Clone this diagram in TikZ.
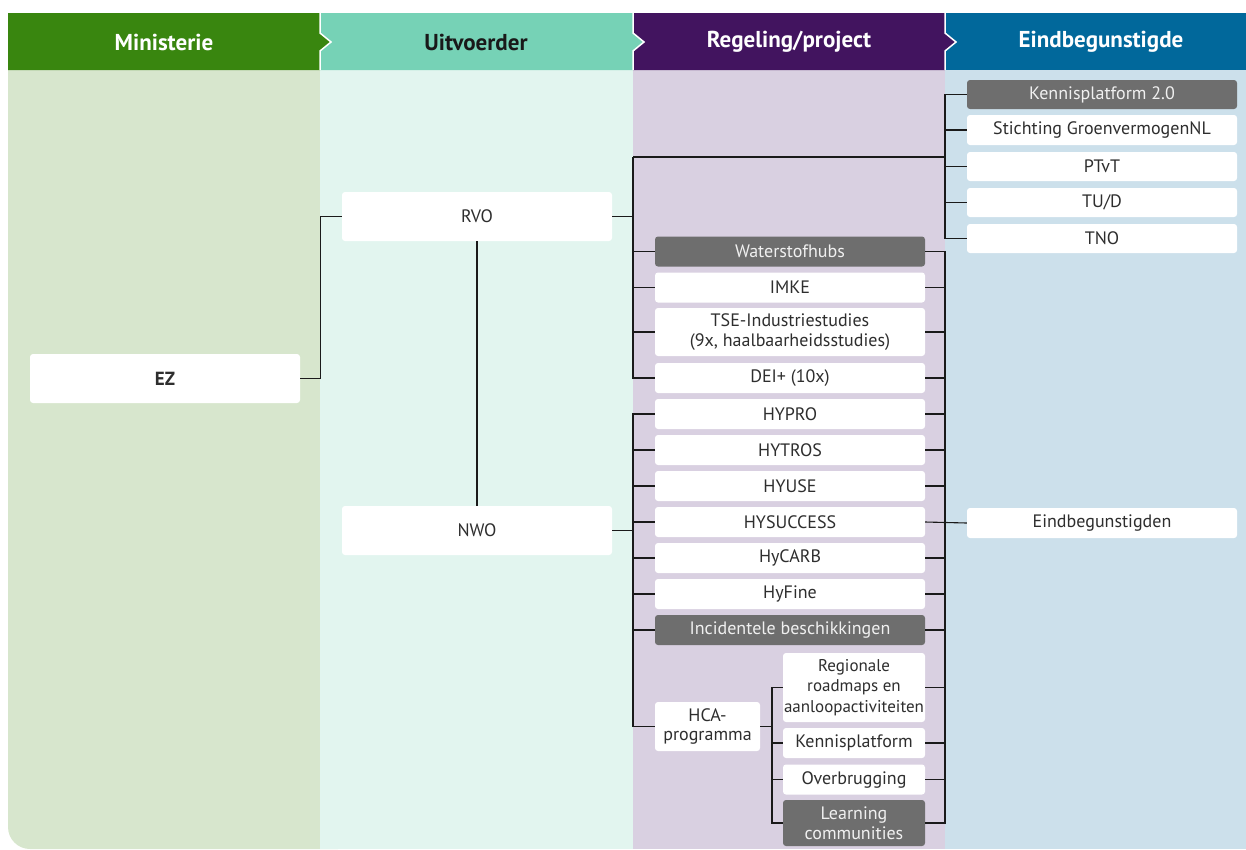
\documentclass[tikz,border=0pt]{standalone}
\usepackage{fontspec}
\setmainfont{PT Sans}
\definecolor{hdgreen}{HTML}{39860F}
\definecolor{hdteal}{HTML}{76D2B6}
\definecolor{hdpurple}{HTML}{42145F}
\definecolor{hdblue}{HTML}{01689B}
\definecolor{bdgreen}{HTML}{D7E6CD}
\definecolor{bdteal}{HTML}{E2F5EF}
\definecolor{bdpurple}{HTML}{D9D0E1}
\definecolor{bdblue}{HTML}{CCE0EB}
\definecolor{boxgray}{HTML}{6E6E6E}
\definecolor{txtdark}{HTML}{2E2E2E}
\definecolor{linecol}{HTML}{1A1A1A}
\tikzset{
  box/.style={fill=white, rounded corners=3pt, inner sep=0pt, text=txtdark,
    font=\fontsize{18}{19.5}\selectfont, align=center},
  graybox/.style={box, fill=boxgray, text=white!94!black},
  hdtext/.style={font=\fontsize{23}{25}\selectfont\bfseries, text=white},
  conn/.style={draw=linecol, line width=1.1pt},
  sepline/.style={draw=white, line width=1.5pt},
}
\begin{document}
\begin{tikzpicture}[x=1pt,y=-1pt]
\useasboundingbox (0,0) rectangle (1246,849);
% body backgrounds
\fill[bdgreen, rounded corners=22pt] (8,40) rectangle (360,849);
\fill[bdteal] (320,70) rectangle (633,849);
\fill[bdpurple] (633,70) rectangle (945,849);
\fill[bdblue] (945,70) rectangle (1246,849);
% headers
\fill[hdblue] (945,13) rectangle (1246,70);
\fill[hdpurple] (633,13) -- (945,13) -- (945,33) -- (956,42) -- (945,51) -- (945,70) -- (633,70) -- cycle;
\fill[hdteal] (320,13) -- (633,13) -- (633,33) -- (644,42) -- (633,51) -- (633,70) -- (320,70) -- cycle;
\fill[hdgreen] (8,13) -- (320,13) -- (320,33) -- (331,42) -- (320,51) -- (320,70) -- (8,70) -- cycle;
\draw[sepline] (320,13) -- (320,33) -- (331,42) -- (320,51) -- (320,70);
\draw[sepline] (633,13) -- (633,33) -- (644,42) -- (633,51) -- (633,70);
\draw[sepline] (945,13) -- (945,33) -- (956,42) -- (945,51) -- (945,70);
\node[hdtext] (h1) at (164,42) {Ministerie};
\node[hdtext, text=black!90] (h2) at (476,42) {Uitvoerder};
\node[hdtext] (h3) at (789,42) {Regeling/project};
\node[hdtext] (h4) at (1101,42) {Eindbegunstigde};
% Ministerie / Uitvoerder
\node[box, minimum width=270pt, minimum height=49pt, font=\fontsize{19}{20}\selectfont\bfseries] (ez) at (165,378.5) {EZ};
\node[box, minimum width=270pt, minimum height=49pt] (rvo) at (477,216.5) {RVO};
\node[box, minimum width=270pt, minimum height=49pt] (nwo) at (477,530.5) {NWO};
% Regeling/project
\node[graybox, minimum width=270pt, minimum height=30pt] (wsh) at (790,251.5) {Waterstofhubs};
\node[box, minimum width=270pt, minimum height=30pt] (imke) at (790,287.5) {IMKE};
\node[box, minimum width=270pt, minimum height=48pt] (tse) at (790,332) {TSE-Industriestudies\\(9x, haalbaarheidsstudies)};
\node[box, minimum width=270pt, minimum height=30pt] (dei) at (790,378) {DEI+ (10x)};
\node[box, minimum width=270pt, minimum height=30pt] (hypro) at (790,414) {HYPRO};
\node[box, minimum width=270pt, minimum height=30pt] (hytros) at (790,450) {HYTROS};
\node[box, minimum width=270pt, minimum height=30pt] (hyuse) at (790,486) {HYUSE};
\node[box, minimum width=270pt, minimum height=30pt] (hysuc) at (790,522) {HYSUCCESS};
\node[box, minimum width=270pt, minimum height=30pt] (hycarb) at (790,558) {HyCARB};
\node[box, minimum width=270pt, minimum height=30pt] (hyfine) at (790,594) {HyFine};
\node[graybox, minimum width=270pt, minimum height=30pt] (incid) at (790,630) {Incidentele beschikkingen};
\node[box, minimum width=105pt, minimum height=49pt, font=\fontsize{18}{19}\selectfont] (hca) at (707.5,726.5) {HCA-\\programma};
\node[box, minimum width=142pt, minimum height=69pt, font=\fontsize{17}{20.5}\selectfont] (reg) at (854,687.5) {Regionale\\roadmaps en\\aanloopactiviteiten};
\node[box, minimum width=142pt, minimum height=30pt] (kp) at (854,743) {Kennisplatform};
\node[box, minimum width=142pt, minimum height=30pt] (ovb) at (854,779.5) {Overbrugging};
\node[graybox, minimum width=142pt, minimum height=46pt, font=\fontsize{18}{19.5}\selectfont] (learn) at (854,823) {Learning\\communities};
% Eindbegunstigde
\node[graybox, minimum width=270pt, minimum height=29pt] (kp2) at (1102,94.5) {Kennisplatform 2.0};
\node[box, minimum width=270pt, minimum height=30pt] (stg) at (1102,130) {Stichting GroenvermogenNL};
\node[box, minimum width=270pt, minimum height=29pt] (ptvt) at (1102,166.5) {PTvT};
\node[box, minimum width=270pt, minimum height=29pt] (tud) at (1102,202.5) {TU/D};
\node[box, minimum width=270pt, minimum height=29pt] (tno) at (1102,238.5) {TNO};
\node[box, minimum width=270pt, minimum height=30pt] (eind) at (1102,523) {Eindbegunstigden};
% coordinates of buses
\coordinate (tl) at (633,157);
\coordinate (tr) at (945,157);
\coordinate (hx) at (772,726.5);
% connectors
\draw[conn] (ez.east) -- ++(20,0) |- (rvo.west);
\draw[conn] (rvo.south) -- (nwo.north);
\draw[conn] (rvo.east) -- (rvo.east -| tl);
\draw[conn] (tl) |- (dei.west);
\draw[conn] (tl) -- (tr);
\foreach \n in {wsh,imke,tse} \draw[conn] (\n.west) -- (\n.west -| tl);
\draw[conn] (kp2.west) -| (tno.west -| tr) -- (tno.west);
\foreach \n in {stg,ptvt,tud} \draw[conn] (\n.west) -- (\n.west -| tr);
\draw[conn] (nwo.east) -- (nwo.east -| tl);
\draw[conn] (hypro.west) -| (hca.west -| tl) -- (hca.west);
\foreach \n in {hytros,hyuse,hysuc,hycarb,hyfine,incid} \draw[conn] (\n.west) -- (\n.west -| tl);
\draw[conn] (wsh.east) -| (learn.east -| tr) -- (learn.east);
\foreach \n in {imke,tse,dei,hypro,hytros,hyuse,hycarb,hyfine,incid,reg,kp,ovb} \draw[conn] (\n.east) -- (\n.east -| tr);
\draw[conn] (hysuc.east) -- (eind.west);
\draw[conn] (hca.east) -- (hx);
\draw[conn] (reg.west) -| (learn.west -| hx) -- (learn.west);
\foreach \n in {kp,ovb} \draw[conn] (\n.west) -- (\n.west -| hx);
\end{tikzpicture}
\end{document}
